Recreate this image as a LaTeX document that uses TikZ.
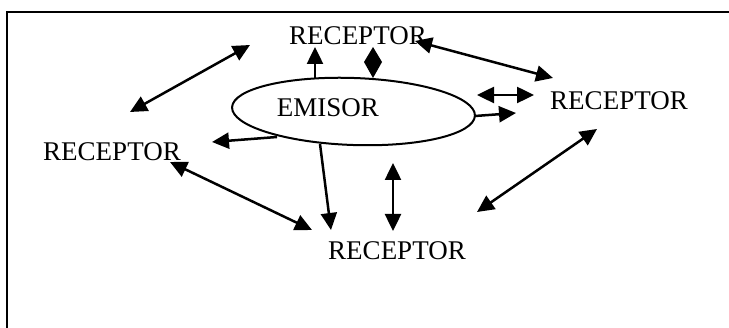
\documentclass[tikz,border=0pt]{standalone}
\usepackage{fontspec}
\setmainfont{Liberation Serif}
\usetikzlibrary{arrows.meta,shapes.geometric}
\begin{document}
\begin{tikzpicture}[x=1pt,y=-1pt,
  lbl/.style={font=\fontsize{27}{27}\selectfont, inner sep=0pt, anchor=base},
  conn/.style={line width=2.5pt, -{Triangle[length=17pt,width=16pt]}},
  dconn/.style={line width=2.5pt, {Triangle[length=17pt,width=16pt]}-{Triangle[length=17pt,width=16pt]}}]
\useasboundingbox (0,0) rectangle (729,328);
\fill[white] (0,0) rectangle (729,328);
% frame
\draw[line width=2.5pt] (7,328) -- (7,12) -- (729,12);
% nodes
\node[ellipse, draw, line width=2pt, minimum width=243pt, minimum height=67pt, inner sep=0pt, rotate=-2] (em) at (353.5,111.5) {};
\node[lbl] (emt) at (328,117) {EMISOR};
\node[lbl] (rtop) at (358,45) {RECEPTOR};
\node[lbl] (rleft) at (112,161) {RECEPTOR};
\node[lbl] (rright) at (619,110) {RECEPTOR};
\node[lbl] (rbot) at (397,260) {RECEPTOR};
% connector ends
\coordinate (c1a) at (130,112); \coordinate (c1b) at (250,45);
\coordinate (c2a) at (415,41); \coordinate (c2b) at (553,78);
\coordinate (c3a) at (477,95); \coordinate (c3b) at (534,95);
\coordinate (c4a) at (477,212); \coordinate (c4b) at (597,129);
\coordinate (c5a) at (170,162); \coordinate (c5b) at (312,230);
\coordinate (c6a) at (393,163); \coordinate (c6b) at (393,231);
\coordinate (e1) at (315,79); \coordinate (e1t) at (315,47);
\coordinate (e2) at (475,116); \coordinate (e2t) at (516,113);
\coordinate (e3) at (277,137); \coordinate (e3t) at (212,142);
\coordinate (e4) at (320,144); \coordinate (e4t) at (331,230);
% connectors
\draw[dconn] (c1a) -- (c1b);
\draw[dconn] (c2a) -- (c2b);
\draw[dconn] (c3a) -- (c3b);
\draw[dconn] (c4a) -- (c4b);
\draw[dconn] (c5a) -- (c5b);
\draw[dconn] (c6a) -- (c6b);
\draw[conn] (e1) -- (e1t);
\draw[conn] (e2) -- (e2t);
\draw[conn] (e3) -- (e3t);
\draw[conn] (e4) -- (e4t);
% diamond double head between emisor and top receptor
\fill (373,47) -- (382,62) -- (373,78) -- (364,62) -- cycle;
\end{tikzpicture}
\end{document}
